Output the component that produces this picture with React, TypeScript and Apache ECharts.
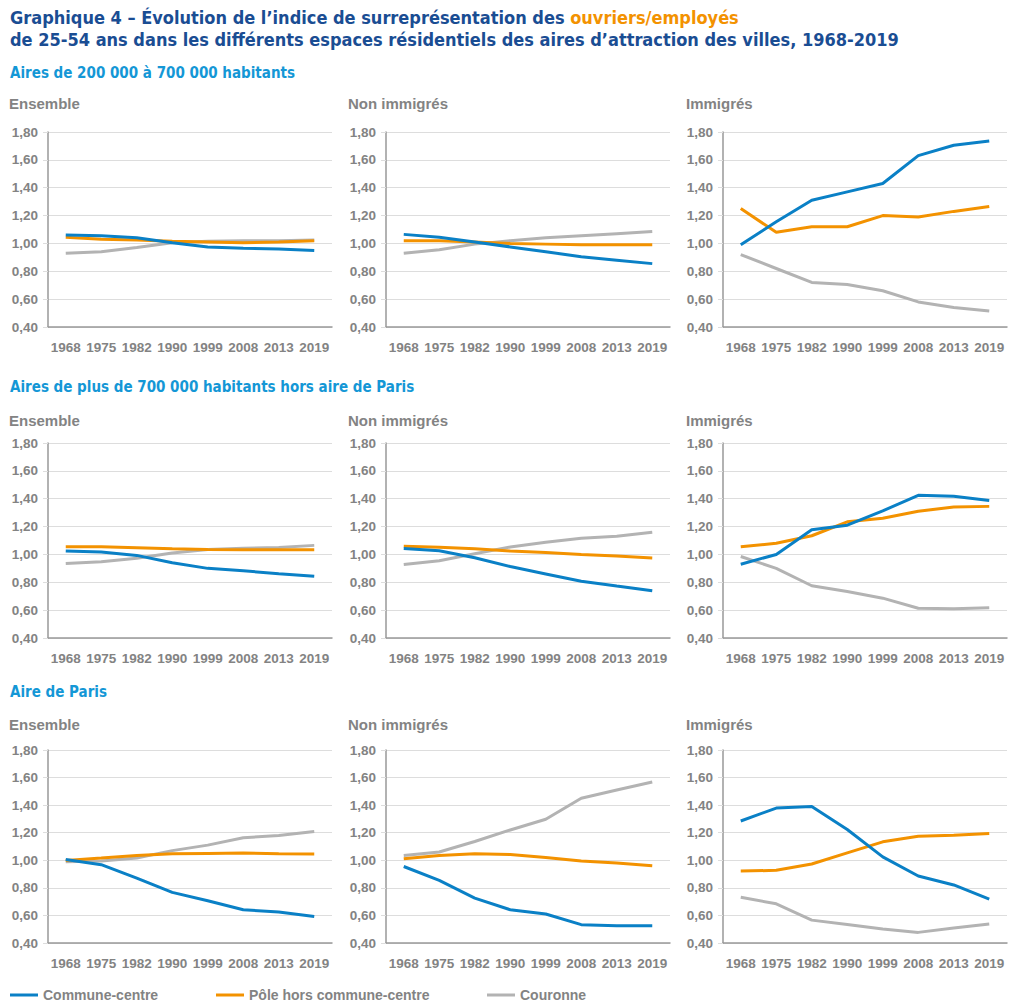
import React, { useEffect, useRef } from "react";
import * as echarts from "echarts";

const years = ["1968", "1975", "1982", "1990", "1999", "2008", "2013", "2019"];
const seriesNames = ["Commune-centre", "Pôle hors commune-centre", "Couronne"];
const sectionTitles = [
  "Aires de 200 000 à 700 000 habitants",
  "Aires de plus de 700 000 habitants hors aire de Paris",
  "Aire de Paris",
];
const panelTitles = ["Ensemble", "Non immigrés", "Immigrés"];

// Aires de 200 000 à 700 000 habitants
const a1Ensemble = {
  centre: [1.06, 1.055, 1.04, 1.005, 0.975, 0.965, 0.96, 0.95],
  pole: [1.045, 1.03, 1.025, 1.015, 1.01, 1.005, 1.01, 1.02],
  couronne: [0.93, 0.94, 0.97, 1.005, 1.015, 1.02, 1.02, 1.025],
};
const a1NonImmigres = {
  centre: [1.065, 1.045, 1.01, 0.975, 0.94, 0.905, 0.88, 0.855],
  pole: [1.02, 1.02, 1.01, 1.0, 0.995, 0.99, 0.99, 0.99],
  couronne: [0.93, 0.955, 0.995, 1.02, 1.04, 1.055, 1.07, 1.085],
};
const a1Immigres = {
  centre: [0.99, 1.155, 1.31, 1.37, 1.43, 1.63, 1.705, 1.735],
  pole: [1.25, 1.08, 1.12, 1.12, 1.2, 1.19, 1.23, 1.265],
  couronne: [0.92, 0.82, 0.72, 0.705, 0.66, 0.58, 0.54, 0.515],
};
// Aires de plus de 700 000 habitants hors aire de Paris
const a2Ensemble = {
  centre: [1.025, 1.017, 0.993, 0.94, 0.9, 0.882, 0.862, 0.843],
  pole: [1.055, 1.055, 1.048, 1.04, 1.035, 1.033, 1.033, 1.033],
  couronne: [0.935, 0.948, 0.972, 1.01, 1.035, 1.045, 1.05, 1.065],
};
const a2NonImmigres = {
  centre: [1.043, 1.026, 0.976, 0.913, 0.86, 0.807, 0.773, 0.74],
  pole: [1.058, 1.052, 1.04, 1.024, 1.014, 1.0, 0.988, 0.975],
  couronne: [0.928, 0.954, 1.005, 1.053, 1.087, 1.116, 1.13, 1.16],
};
const a2Immigres = {
  centre: [0.93, 1.0, 1.177, 1.21, 1.313, 1.424, 1.417, 1.388],
  pole: [1.055, 1.08, 1.134, 1.234, 1.26, 1.31, 1.34, 1.345],
  couronne: [0.985, 0.9, 0.775, 0.734, 0.686, 0.614, 0.61, 0.617],
};
// Aire de Paris
const a3Ensemble = {
  centre: [1.006, 0.968, 0.871, 0.767, 0.707, 0.641, 0.625, 0.593],
  pole: [0.999, 1.016, 1.035, 1.047, 1.05, 1.052, 1.047, 1.045],
  couronne: [0.99, 0.994, 1.016, 1.07, 1.11, 1.163, 1.18, 1.208],
};
const a3NonImmigres = {
  centre: [0.955, 0.854, 0.726, 0.641, 0.61, 0.533, 0.526, 0.526],
  pole: [1.011, 1.035, 1.047, 1.042, 1.02, 0.994, 0.98, 0.96],
  couronne: [1.035, 1.06, 1.136, 1.22, 1.298, 1.45, 1.51, 1.568],
};
const a3Immigres = {
  centre: [1.285, 1.379, 1.391, 1.223, 1.025, 0.886, 0.821, 0.718],
  pole: [0.922, 0.927, 0.973, 1.054, 1.134, 1.175, 1.182, 1.194],
  couronne: [0.732, 0.684, 0.566, 0.535, 0.501, 0.477, 0.508, 0.537],
};

const panels = [
  [a1Ensemble, a1NonImmigres, a1Immigres],
  [a2Ensemble, a2NonImmigres, a2Immigres],
  [a3Ensemble, a3NonImmigres, a3Immigres],
];

const COLORS = ["#0a80c6", "#f39200", "#b3b3b3"];
const GRAY_TEXT = "#838383";
const DARK_BLUE = "#1a4d93";
const LIGHT_BLUE = "#1497d6";
const NARROW = "'DejaVu Sans Condensed', 'DejaVu Sans', sans-serif";
const SANS = "'Liberation Sans', Arial, sans-serif";

export default function App() {
  const ref = useRef<HTMLDivElement>(null);

  useEffect(() => {
    if (!ref.current) return;
    const chart = echarts.init(ref.current, null, { renderer: "svg" });

    const colLeft = [48, 386, 723];
    const colWidth = 284;
    const rowTop = [132, 443, 750];
    const rowHeight = [195, 195, 193];
    const sectionTop = [65, 379, 684];
    const panelTitleTop = [96, 413, 717];
    const panelTitleLeft = [9, 348, 686];

    const grids: any[] = [];
    const xAxes: any[] = [];
    const yAxes: any[] = [];
    const series: any[] = [];
    const titles: any[] = [];

    titles.push({
      left: 10,
      top: 6,
      padding: 0,
      text:
        "{a|Graphique 4 – Évolution de l’indice de surreprésentation des }{b|ouvriers/employés}\n{a|de 25-54 ans dans les différents espaces résidentiels des aires d’attraction des villes, 1968-2019}",
      textStyle: {
        rich: {
          a: { fontFamily: NARROW, fontWeight: "bold", fontSize: 18, color: DARK_BLUE, lineHeight: 22 },
          b: { fontFamily: NARROW, fontWeight: "bold", fontSize: 18, color: "#f39200", lineHeight: 22 },
        },
      },
    });

    for (let r = 0; r < 3; r++) {
      titles.push({
        left: 10,
        top: sectionTop[r],
        padding: 0,
        text: sectionTitles[r],
        textStyle: { fontFamily: NARROW, fontWeight: "bold", fontSize: 15, color: LIGHT_BLUE },
      });
      for (let c = 0; c < 3; c++) {
        const idx = r * 3 + c;
        titles.push({
          left: panelTitleLeft[c],
          top: panelTitleTop[r],
          padding: 0,
          text: panelTitles[c],
          textStyle: { fontFamily: SANS, fontWeight: "bold", fontSize: 15, color: GRAY_TEXT },
        });
        grids.push({
          left: colLeft[c],
          top: rowTop[r],
          width: colWidth,
          height: rowHeight[r],
          containLabel: false,
        });
        xAxes.push({
          type: "category",
          gridIndex: idx,
          data: years,
          boundaryGap: true,
          axisLine: { lineStyle: { color: "#999999", width: 1.5 } },
          axisTick: { alignWithLabel: true, length: 5, lineStyle: { color: "#999999", width: 1.5 } },
          axisLabel: {
            color: GRAY_TEXT,
            fontFamily: SANS,
            fontWeight: "bold",
            fontSize: 13.5,
            margin: 13,
            interval: 0,
          },
          splitLine: { show: false },
        });
        yAxes.push({
          type: "value",
          gridIndex: idx,
          min: 0.4,
          max: 1.8,
          interval: 0.2,
          axisLine: { show: true, lineStyle: { color: "#999999", width: 1.5 } },
          axisTick: { show: true, length: 5, lineStyle: { color: "#dddddd", width: 1 } },
          axisLabel: {
            color: GRAY_TEXT,
            fontFamily: SANS,
            fontWeight: "bold",
            fontSize: 13.5,
            margin: 10,
            formatter: (v: number) => v.toFixed(2).replace(".", ","),
          },
          splitLine: { show: true, lineStyle: { color: "#dddddd", width: 1 } },
        });
        const p = panels[r][c];
        const vals = [p.centre, p.pole, p.couronne];
        for (let s = 2; s >= 0; s--) {
          series.push({
            name: seriesNames[s],
            type: "line",
            xAxisIndex: idx,
            yAxisIndex: idx,
            data: vals[s],
            showSymbol: false,
            symbol: "none",
            lineStyle: { color: COLORS[s], width: 3 },
            itemStyle: { color: COLORS[s] },
            z: 3 - s,
          });
        }
      }
    }

    const legendLeft = [10, 216, 487];
    const legends = seriesNames.map((n, i) => ({
      data: [n],
      left: legendLeft[i],
      top: 988,
      padding: 0,
      icon: "rect",
      itemWidth: 28,
      itemHeight: 3,
      itemGap: 0,
      textStyle: { color: GRAY_TEXT, fontFamily: SANS, fontWeight: "bold", fontSize: 14 },
      selectedMode: false,
    }));

    chart.setOption({
      animation: false,
      backgroundColor: "#ffffff",
      title: titles,
      grid: grids,
      xAxis: xAxes,
      yAxis: yAxes,
      legend: legends,
      series,
    });

    return () => chart.dispose();
  }, []);

  return (
    <div
      ref={ref}
      style={{ position: "fixed", left: 0, top: 0, width: 1021, height: 1008 }}
    />
  );
}
